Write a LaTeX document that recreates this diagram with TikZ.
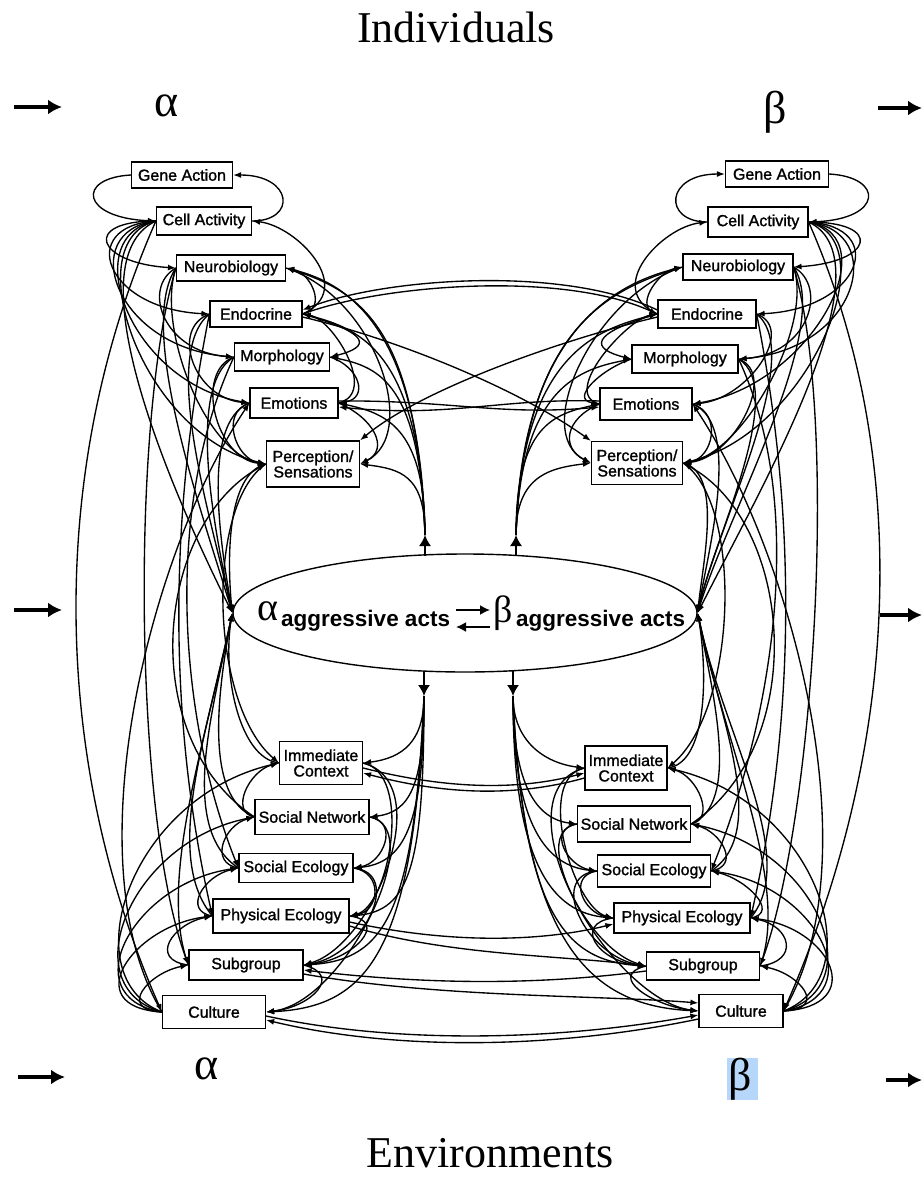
\documentclass[tikz,border=0pt]{standalone}
\usepackage{fontspec}
\setmainfont{Liberation Serif}
\newfontfamily\sansf{Liberation Sans}
\newfontfamily\boxf[FakeBold=1.3]{Liberation Sans}
\usetikzlibrary{arrows.meta,shapes.geometric}
\definecolor{hl}{RGB}{182,214,250}
\pgfdeclarelayer{bg}
\pgfsetlayers{bg,main}
\tikzset{
  box/.style={draw, fill=white, line width=1.2pt, font=\boxf\fontsize{16}{15.5}\selectfont,
              inner xsep=3pt, inner ysep=3pt, minimum height=26pt, align=center},
  ar/.style={-{Latex[length=8pt,width=6pt]}, line width=1.35pt},
  bigar/.style={-{Latex[length=11pt,width=12pt]}, line width=1.5pt},
  sidear/.style={-{Latex[length=14pt,width=15pt]}, line width=4.5pt},
  greek/.style={font=\fontsize{46}{46}\selectfont, inner sep=0pt},
  title/.style={font=\fontsize{44}{44}\selectfont, inner sep=0pt},
  acts/.style={font=\sansf\bfseries\fontsize{22.5}{22.5}\selectfont, anchor=base west, inner sep=0pt},
}
% ---------- connectors of one individual (top) group ----------
\newcommand{\topgroup}[1]{%
 \draw[ar] (ga#1.\ao) .. controls +(\so*55,3) and +(\so*75,-3) .. (ca#1.\ao);
 \draw[ar] (ca#1.\ai) .. controls +(\si*45,0) and +(\si*60,0) .. (ga#1.\ai);
 % outer fan from cell activity
 \draw[ar] (ca#1.\ao) .. controls +(\so*75,0) and +(\so*80,-5) .. (nb#1.\ao);
 \draw[ar] (ca#1.\ao) .. controls +(\so*80,5) and +(\so*105,-5) .. (en#1.\ao);
 \draw[ar] (ca#1.\ao) .. controls +(\so*80,10) and +(\so*120,-10) .. (mo#1.\ao);
 \draw[ar] (ca#1.\ao) .. controls +(\so*80,15) and +(\so*120,-20) .. (em#1.\ao);
 \draw[ar] (ca#1.\ao) .. controls +(\so*80,20) and +(\so*125,-30) .. (ps#1.\ao);
 % outer loops
 \draw[ar] (nb#1.\ao) .. controls +(\so*35,20) and +(\so*70,-5) .. (mo#1.\ao);
 \draw[ar] (en#1.\ao) .. controls +(\so*40,15) and +(\so*55,-5) .. (em#1.\ao);
 \draw[ar] (mo#1.\ao) .. controls +(\so*40,15) and +(\so*50,-5) .. (ps#1.\ao);
 \draw[ar] (nb#1.\ao) .. controls +(\so*20,60) and +(\so*60,-10) .. (ps#1.\ao);
 \draw[ar] (em#1.\ao) .. controls +(\so*30,10) and +(\so*30,-5) .. (ps#1.\ao);
 % outer side into the tip of the ellipse
 \draw[ar] (ca#1.\ao) .. controls +(\so*85,40) and +(\so*60,-120) .. (E.\ao);
 \draw[ar] (nb#1.\ao) .. controls +(\so*40,60) and +(\so*30,-100) .. (E.\ao);
 \draw[ar] (en#1.\ao) .. controls +(\so*50,40) and +(\so*20,-90) .. (E.\ao);
 \draw[ar] (mo#1.\ao) .. controls +(\so*50,30) and +(\so*15,-70) .. (E.\ao);
 \draw[ar] (em#1.\ao) .. controls +(\so*50,20) and +(\so*10,-60) .. (E.\ao);
 \draw[ar] (ps#1.\ao) .. controls +(\so*40,10) and +(\so*5,-50) .. (E.\ao);
 % inner fan from the arrow above the ellipse
 \draw[ar] (t#1) .. controls +(0,-60) and +(\si*40,5) .. (ps#1.\ai);
 \draw[ar] (t#1) .. controls +(0,-110) and +(\si*45,10) .. (em#1.\ai);
 \draw[ar] (t#1) .. controls +(\so*5,-150) and +(\si*50,10) .. (mo#1.\ai);
 \draw[ar] (t#1) .. controls +(\so*5,-180) and +(\si*60,15) .. (en#1.\ai);
 \draw[ar] (t#1) .. controls +(\so*5,-210) and +(\si*60,15) .. (nb#1.\ai);
 \draw[ar] (t#1) .. controls +(\so*8,-200) and +(\si*80,25) .. (nb#1.\ai);
 % inner loops
 \draw[ar] (en#1.\ai) .. controls +(\si*55,-25) and +(\si*45,5) .. (ca#1.\ai);
 \draw[ar] (en#1.\ai) .. controls +(\si*25,-5) and +(\si*25,5) .. (nb#1.\ai);
 \draw[ar] (em#1.\ai) .. controls +(\si*40,-10) and +(\si*30,5) .. (en#1.\ai);
 \draw[ar] (mo#1.\ai) .. controls +(\si*30,10) and +(\si*30,-5) .. (em#1.\ai);
 \draw[ar] (em#1.\ai) .. controls +(\si*35,15) and +(\si*30,-15) .. (ps#1.\ai);
 \draw[ar] (nb#1.\ai) .. controls +(\si*90,30) and +(\si*60,-30) .. (ps#1.\ai);
 \draw[ar] (en#1.\ai) .. controls +(\si*70,20) and +(\si*40,-10) .. (mo#1.\ai);
}
% ---------- connectors of one environment (bottom) group ----------
\newcommand{\botgroup}[1]{%
 % outer fan from culture
 \draw[ar] (cu#1.\ao) .. controls +(\so*45,-2) and +(\so*40,8) .. (sg#1.\ao);
 \draw[ar] (cu#1.\ao) .. controls +(\so*85,-5) and +(\so*80,10) .. (pe#1.\ao);
 \draw[ar] (cu#1.\ao) .. controls +(\so*90,-15) and +(\so*105,15) .. (se#1.\ao);
 \draw[ar] (cu#1.\ao) .. controls +(\so*90,-25) and +(\so*125,25) .. (sn#1.\ao);
 \draw[ar] (cu#1.\ao) .. controls +(\so*90,-35) and +(\so*150,35) .. (ic#1.\ao);
 % outer loops
 \draw[ar] (sg#1.\ao) .. controls +(\so*40,-5) and +(\so*40,8) .. (pe#1.\ao);
 \draw[ar] (pe#1.\ao) .. controls +(\so*30,-5) and +(\so*35,8) .. (se#1.\ao);
 \draw[ar] (se#1.\ao) .. controls +(\so*30,-5) and +(\so*30,8) .. (sn#1.\ao);
 \draw[ar] (sn#1.\ao) .. controls +(\so*25,-5) and +(\so*30,8) .. (ic#1.\ao);
 % up into the tip of the ellipse
 \draw[ar] (ic#1.\ao) .. controls +(\so*40,-5) and +(\so*10,60) .. (E.\ao);
 \draw[ar] (sn#1.\ao) .. controls +(\so*50,-20) and +(\so*15,80) .. (E.\ao);
 \draw[ar] (se#1.\ao) .. controls +(\so*60,-40) and +(\so*20,100) .. (E.\ao);
 \draw[ar] (pe#1.\ao) .. controls +(\so*50,-60) and +(\so*25,120) .. (E.\ao);
 \draw[ar] (sg#1.\ao) .. controls +(\so*30,-80) and +(\so*30,140) .. (E.\ao);
 % inner fan from the arrow below the ellipse
 \draw[ar] (b#1) .. controls +(0,45) and +(\si*40,-5) .. (ic#1.\ai);
 \draw[ar] (b#1) .. controls +(0,90) and +(\si*40,-5) .. (sn#1.\ai);
 \draw[ar] (b#1) .. controls +(0,130) and +(\si*50,-5) .. (se#1.\ai);
 \draw[ar] (b#1) .. controls +(0,170) and +(\si*60,-5) .. (pe#1.\ai);
 \draw[ar] (b#1) .. controls +(\so*10,220) and +(\si*80,-5) .. (sg#1.\ai);
 \draw[ar] (b#1) .. controls +(\so*10,260) and +(\si*100,-5) .. (cu#1.\ai);
 % inner loops
 \draw[ar] (sn#1.\ai) .. controls +(\si*30,5) and +(\si*30,-5) .. (se#1.\ai);
 \draw[ar] (se#1.\ai) .. controls +(\si*30,5) and +(\si*30,-5) .. (pe#1.\ai);
 \draw[ar] (pe#1.\ai) .. controls +(\si*40,5) and +(\si*50,-5) .. (sg#1.\ai);
 \draw[ar] (ic#1.\ai) .. controls +(\si*50,10) and +(\si*40,-10) .. (pe#1.\ai);
 \draw[ar] (ic#1.\ai) .. controls +(\si*75,20) and +(\si*70,-20) .. (sg#1.\ai);
 \draw[ar] (sn#1.\ai) .. controls +(\si*60,10) and +(\si*80,-10) .. (cu#1.\ai);
 \draw[ar] (se#1.\ai) .. controls +(\si*50,5) and +(\si*60,-10) .. (sg#1.\ai);
 \draw[ar] (sg#1.\ai) .. controls +(\si*40,10) and +(\si*45,-5) .. (cu#1.\ai);
}
% ---------- long outer arcs between top and bottom groups ----------
\newcommand{\sidelinks}[1]{%
 \draw[ar] (nb#1.\ao) .. controls +(\so*45,150) and +(\so*55,-150) .. (sg#1.\ao);
 \draw[ar] (en#1.\ao) .. controls +(\so*40,200) and +(\so*45,-200) .. (pe#1.\ao);
 \draw[ar] (cu#1.\ao) .. controls +(\so*90,-150) and +(\so*100,150) .. (em#1.\ao);
 \draw[ar] (ca#1.\ao) .. controls +(\so*110,250) and +(\so*110,-250) .. (cu#1.\ao);
 \draw[ar] (ps#1.\ao) .. controls +(\so*60,40) and +(\so*70,-60) .. (ic#1.\ao);
 \draw[ar] (sn#1.\ao) .. controls +(\so*120,-80) and +(\so*110,60) .. (ps#1.\ao);
 \draw[ar] (mo#1.\ao) .. controls +(\so*70,150) and +(\so*60,-150) .. (se#1.\ao);
}
\begin{document}
\begin{tikzpicture}[x=1pt,y=-1pt]
\useasboundingbox (0,0) rectangle (922,1178);
% titles and group letters
\node[title, anchor=base] (ti) at (456,42) {Individuals};
\node[title, anchor=base] (te) at (490,1167) {Environments};
\fill[hl] (727,1058) rectangle (758,1100);
\node[greek] (aT) at (167,106) {α};
\node[greek] (bT) at (775,112) {β};
\node[greek] (aB) at (207,1069) {α};
\node[greek] (bB) at (740,1079) {β};
% side arrows
\coordinate (s1a) at (14,107);  \coordinate (s1b) at (62,107);
\coordinate (s2a) at (878,108); \coordinate (s2b) at (922,108);
\coordinate (s3a) at (14,610);  \coordinate (s3b) at (62,610);
\coordinate (s4a) at (880,615); \coordinate (s4b) at (922,615);
\coordinate (s5a) at (18,1077); \coordinate (s5b) at (65,1077);
\coordinate (s6a) at (886,1080);\coordinate (s6b) at (922,1080);
\foreach \p in {1,...,6} \draw[sidear] (s\p a) -- (s\p b);
% top left boxes
\node[box, minimum width=101] (gaL) at (182,175) {Gene Action};
\node[box, minimum width=95, minimum height=28] (caL) at (204,221) {Cell Activity};
\node[box, minimum width=109] (nbL) at (231,268) {Neurobiology};
\node[box, minimum width=92] (enL) at (256,314) {Endocrine};
\node[box, minimum width=95, minimum height=28] (moL) at (282,357) {Morphology};
\node[box, minimum width=88, minimum height=30] (emL) at (294,403) {Emotions};
\node[box, minimum width=93, minimum height=46] (psL) at (313,464) {Perception/\\Sensations};
% top right boxes
\node[box, minimum width=103] (gaR) at (777,174) {Gene Action};
\node[box, minimum width=100, minimum height=30] (caR) at (758,222) {Cell Activity};
\node[box, minimum width=110] (nbR) at (738,267) {Neurobiology};
\node[box, minimum width=98, minimum height=28] (enR) at (707,314) {Endocrine};
\node[box, minimum width=106, minimum height=28] (moR) at (685,359) {Morphology};
\node[box, minimum width=92, minimum height=32] (emR) at (646,404) {Emotions};
\node[box, minimum width=91, minimum height=43] (psR) at (637,463) {Perception/\\Sensations};
% bottom left boxes
\node[box, minimum width=83, minimum height=43] (icL) at (321,763) {Immediate\\Context};
\node[box, minimum width=114, minimum height=35] (snL) at (312,817) {Social Network};
\node[box, minimum width=114, minimum height=29] (seL) at (296,868) {Social Ecology};
\node[box, minimum width=136, minimum height=34] (peL) at (281,916) {Physical Ecology};
\node[box, minimum width=114, minimum height=30] (sgL) at (246,965) {Subgroup};
\node[box, minimum width=103, minimum height=33] (cuL) at (214,1012) {Culture};
% bottom right boxes
\node[box, minimum width=82, minimum height=44] (icR) at (626,768) {Immediate\\Context};
\node[box, minimum width=113, minimum height=36] (snR) at (634,824) {Social Network};
\node[box, minimum width=113, minimum height=32] (seR) at (654,871) {Social Ecology};
\node[box, minimum width=136, minimum height=30] (peR) at (682,918) {Physical Ecology};
\node[box, minimum width=113, minimum height=28] (sgR) at (703,966) {Subgroup};
\node[box, minimum width=84, minimum height=33] (cuR) at (741,1011) {Culture};
% central ellipse
\node[draw, fill=white, ellipse, line width=1.4pt, minimum width=464, minimum height=118, inner sep=0pt] (E) at (465,613) {};
\node[font=\fontsize{40}{40}\selectfont, anchor=base, inner sep=0pt] (ea) at (268,620) {α};
\node[acts] (eta) at (281,626) {aggressive acts};
\node[font=\fontsize{38}{38}\selectfont, anchor=base, inner sep=0pt] (eb) at (503,622) {β};
\node[acts] (etb) at (516,626) {aggressive acts};
\coordinate (x1) at (456,610); \coordinate (x2) at (490,610);
\coordinate (x3) at (490,627); \coordinate (x4) at (456,627);
\draw[-{Latex[length=10pt,width=10pt]}, line width=1.8pt] (x1) -- (x2);
\draw[-{Latex[length=10pt,width=10pt]}, line width=1.8pt] (x3) -- (x4);
% stems above and below the ellipse
\coordinate (sL) at (425,556); \coordinate (tL) at (425,535);
\coordinate (sR) at (516,556); \coordinate (tR) at (516,535);
\coordinate (uL) at (424,671); \coordinate (bL) at (424,696);
\coordinate (uR) at (513,671); \coordinate (bR) at (513,696);
\draw[bigar] (sL) -- (tL);
\draw[bigar] (sR) -- (tR);
\draw[bigar] (uL) -- (bL);
\draw[bigar] (uR) -- (bR);
\begin{pgfonlayer}{bg}
\def\ao{west}\def\ai{east}\def\so{-1}\def\si{1}
\topgroup{L}\botgroup{L}\sidelinks{L}
\def\ao{east}\def\ai{west}\def\so{1}\def\si{-1}
\topgroup{R}\botgroup{R}\sidelinks{R}
% cross links between the two individuals
\draw[ar] (enL.east) .. controls (380,285) and (560,270) .. (enR.west);
\draw[ar] ([yshift=4pt]enR.west) .. controls (560,264) and (380,279) .. ([yshift=4pt]enL.east);
\draw[ar] ([yshift=-3pt]enL.east) .. controls (400,340) and (520,390) .. (psR.north west);
\draw[ar] ([yshift=-3pt]enR.west) .. controls (560,340) and (420,390) .. (psL.north east);
\draw[ar] ([yshift=2pt]emL.east) .. controls (450,400) and (500,416) .. ([yshift=-3pt]emR.west);
\draw[ar] ([yshift=3pt]emR.west) .. controls (500,398) and (450,418) .. ([yshift=-4pt]emL.east);
% cross links between the two environments
\draw[ar] ([yshift=-5pt]icL.east) .. controls (450,790) and (520,790) .. ([yshift=-5pt]icR.west);
\draw[ar] ([yshift=-10pt]icR.west) .. controls (520,796) and (450,796) .. ([yshift=-10pt]icL.east);
\draw[ar] ([yshift=-6pt]peL.east) .. controls (450,944) and (540,942) .. ([yshift=-6pt]peR.west);
\draw[ar] ([yshift=-10pt]peL.east) .. controls (450,956) and (560,955) .. (sgR.west);
\draw[ar] ([yshift=-5pt]sgR.west) .. controls (540,985) and (430,985) .. ([yshift=-5pt]sgL.east);
\draw[ar] ([yshift=-9pt]sgL.east) .. controls (440,998) and (600,995) .. ([yshift=8pt]cuR.west);
\draw[ar] ([yshift=-4pt]cuL.east) .. controls (400,1045) and (560,1040) .. ([yshift=-4pt]cuR.west);
\draw[ar] ([yshift=-8pt]cuR.west) .. controls (560,1048) and (400,1052) .. ([yshift=-8pt]cuL.east);
\end{pgfonlayer}
\end{tikzpicture}
\end{document}
